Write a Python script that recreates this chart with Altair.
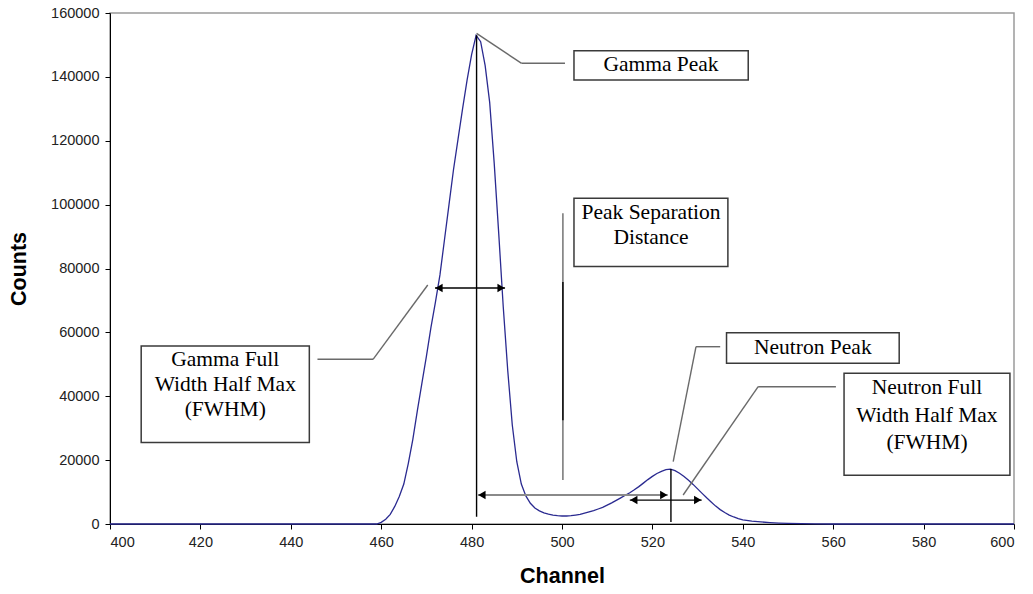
import altair as alt
import pandas as pd

# ---- spectrum (channel, counts) ----
channels = [400, 420, 440, 455, 459, 460, 461, 462, 463, 464, 465, 466, 467, 468, 469, 470,
            471, 472, 473, 474, 475, 476, 477, 478, 479, 480, 481, 482, 483, 484, 485,
            486, 487, 488, 489, 490, 491, 492, 493, 494, 495, 496, 497, 498, 499, 500,
            501, 502, 503, 504, 505, 506, 507, 508, 509, 510, 511, 512, 513, 514, 515,
            516, 517, 518, 519, 520, 521, 522, 523, 524, 525, 526, 527, 528, 529, 530,
            531, 532, 533, 534, 535, 536, 537, 538, 539, 540, 542, 544, 546, 548, 550,
            553, 556, 560, 580, 600]
counts = [0, 0, 0, 0, 0, 500, 1500, 3000, 5500, 8600, 12500, 19000, 26500, 35500, 44000, 52500,
          61500, 69500, 78000, 89000, 100000, 111000, 120500, 130000, 139000, 147000, 153000, 151000, 143500, 132000, 113000,
          91000, 68000, 48000, 31000, 19500, 12500, 8800, 6500, 5000, 4100, 3500, 3100, 2800, 2600, 2500,
          2500, 2600, 2800, 3000, 3400, 3800, 4200, 4700, 5200, 5900, 6600, 7400, 8200, 9000, 9800,
          10700, 11700, 12800, 13900, 14900, 15800, 16500, 17000, 17200, 16700, 15900, 14900, 13700, 12400, 11000,
          9600, 8200, 6900, 5600, 4500, 3600, 2800, 2200, 1700, 1300, 900, 650, 450, 300, 200,
          100, 50, 0, 0, 0]

x_ticks = list(range(400, 601, 20))
y_ticks = list(range(0, 160001, 20000))

# ---- annotation boxes (data units) ----
box_x1 = [502.65, 502.65, 406.9, 536.4, 562.4]
box_x2 = [541.2, 536.7, 444.1, 574.6, 599.1]
box_y1 = [148200, 102000, 55700, 59900, 47200]
box_y2 = [139000, 80600, 25500, 50300, 15300]

label_text = ["Gamma Peak", "Peak Separation", "Distance",
              "Gamma Full", "Width Half Max", "(FWHM)",
              "Neutron Peak",
              "Neutron Full", "Width Half Max", "(FWHM)"]
label_x = [521.9, 519.7, 519.7, 425.5, 425.5, 425.5, 555.5, 580.75, 580.75, 580.75]
label_y = [143600, 97300, 89500, 51350, 43500, 35700, 55100, 42600, 33700, 25300]

# ---- callout leader lines (gray) ----
call_x1 = [481.1, 491.06, 500.2, 445.9, 458.2, 535.0, 529.65, 560.6, 543.4]
call_x2 = [491.06, 500.66, 500.2, 458.2, 470.3, 529.65, 524.6, 543.4, 526.8]
call_y1 = [153600, 144250, 97300, 51570, 51570, 55510, 55510, 42990, 42990]
call_y2 = [144250, 144250, 13800, 51570, 74830, 55510, 19500, 42990, 9080]

# ---- black marker lines ----
blk_x1 = [481.1, 524.1, 500.2]
blk_x2 = [481.1, 524.1, 500.2]
blk_y1 = [153000, 17200, 75800]
blk_y2 = [2300, 600, 32500]

# ---- arrows: start, end, level ----
arrow_x1 = [471.9, 481.4, 515.0]
arrow_x2 = [487.4, 523.4, 530.9]
arrow_y = [73900, 9080, 7500]

curve = pd.DataFrame({"channel": channels, "counts": counts})
boxes = pd.DataFrame({"x1": box_x1, "x2": box_x2, "y1": box_y1, "y2": box_y2})
labels = pd.DataFrame({"text": label_text, "x": label_x, "y": label_y})
callouts = pd.DataFrame({"x1": call_x1, "x2": call_x2, "y1": call_y1, "y2": call_y2})
blacks = pd.DataFrame({"x1": blk_x1, "x2": blk_x2, "y1": blk_y1, "y2": blk_y2})
arrows = pd.DataFrame({"x1": arrow_x1, "x2": arrow_x2, "y": arrow_y})
left_heads = pd.DataFrame({"x": arrow_x1, "y": arrow_y})
right_heads = pd.DataFrame({"x": arrow_x2, "y": arrow_y})

xs = alt.Scale(domain=[400, 600], nice=False, zero=False)
ys = alt.Scale(domain=[0, 160000], nice=False)

axis_common = dict(grid=False, tickSize=5, labelPadding=6,
                   domainColor="black", tickColor="black", labelColor="#222",
                   labelFont="Liberation Sans", labelFontSize=14.5,
                   titleFont="Liberation Sans", titleFontSize=21.5, titleFontWeight="bold",
                   titleColor="black", format="d")
x_axis = alt.Axis(values=x_ticks, titlePadding=17, **axis_common)
y_axis = alt.Axis(values=y_ticks, titlePadding=20, **axis_common)


def X(f):
    return alt.X(f, type="quantitative", scale=xs, axis=x_axis, title="Channel")


def Y(f):
    return alt.Y(f, type="quantitative", scale=ys, axis=y_axis, title="Counts")


line = alt.Chart(curve).mark_line(color="#2a2a90", strokeWidth=1.3).encode(
    x=X("channel"), y=Y("counts"))

call_layer = alt.Chart(callouts).mark_rule(color="#6a6a6a", strokeWidth=1.4).encode(
    x=X("x1"), x2="x2", y=Y("y1"), y2="y2")

black_layer = alt.Chart(blacks).mark_rule(color="black", strokeWidth=1.4).encode(
    x=X("x1"), x2="x2", y=Y("y1"), y2="y2")

arrow_sep = alt.Chart(arrows.iloc[[1]]).mark_rule(color="#8a8a8a", strokeWidth=2).encode(
    x=X("x1"), x2="x2", y=Y("y"))
arrow_blk = alt.Chart(arrows.iloc[[0, 2]]).mark_rule(color="black", strokeWidth=1.3).encode(
    x=X("x1"), x2="x2", y=Y("y"))

lh = alt.Chart(left_heads).mark_point(shape="triangle-left", filled=True, color="black",
                                       size=70, opacity=1, xOffset=4).encode(x=X("x"), y=Y("y"))
rh = alt.Chart(right_heads).mark_point(shape="triangle-right", filled=True, color="black",
                                        size=70, opacity=1, xOffset=-4).encode(x=X("x"), y=Y("y"))

box_layer = alt.Chart(boxes).mark_rect(fill="white", stroke="#3a3a3a", strokeWidth=1.5).encode(
    x=X("x1"), x2="x2", y=Y("y1"), y2="y2")

text_layer = alt.Chart(labels).mark_text(font="Liberation Serif", fontSize=21.5, color="black",
                                         align="center", baseline="middle").encode(
    x=X("x"), y=Y("y"), text="text:N")

chart = alt.layer(line, call_layer, black_layer, arrow_sep, arrow_blk, lh, rh,
                  box_layer, text_layer).properties(
    width=904, height=511,
    autosize=alt.AutoSizeParams(type="none"),
    padding={"left": 110, "top": 13, "right": 19, "bottom": 70},
    background="white",
).configure_view(stroke="#9a9a9a", strokeWidth=1.5)

chart.save("out.html", embed_options={"renderer": "svg", "actions": False})
